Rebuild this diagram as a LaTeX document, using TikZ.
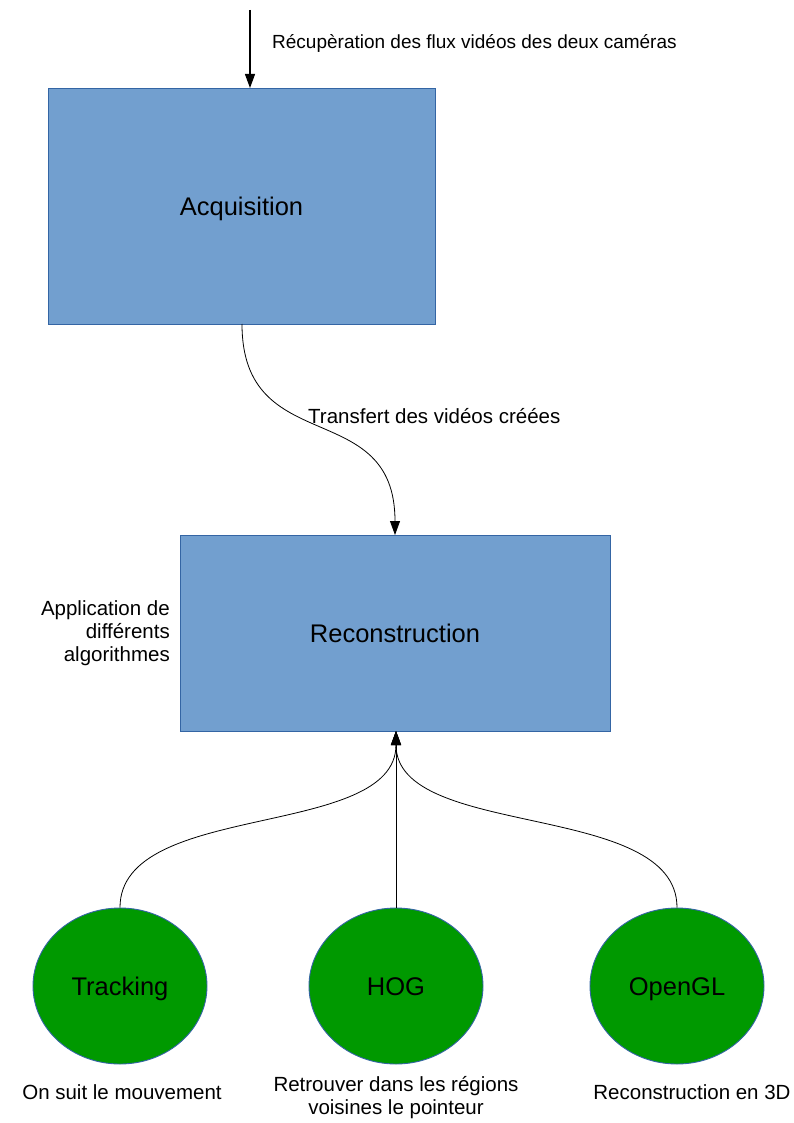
\documentclass[tikz,border=0pt]{standalone}
\usepackage{fontspec}
\setmainfont{Liberation Sans}
\usepackage{xcolor}
\usetikzlibrary{arrows.meta,shapes.geometric}
\definecolor{boxfill}{HTML}{729FCF}
\definecolor{boxline}{HTML}{3465A4}
\definecolor{ovalfill}{HTML}{009900}
\tikzset{
  blk/.style={draw=boxline, fill=boxfill, line width=0.9pt, inner sep=0pt,
    text height=24pt, text depth=5.4pt, font=\fontsize{25.5}{30}\selectfont},
  oval/.style={ellipse, draw=boxline, fill=ovalfill, line width=0.9pt, inner sep=0pt,
    text height=24pt, text depth=5.4pt,
    minimum width=174pt, minimum height=156pt, font=\fontsize{25.5}{30}\selectfont},
  flow/.style={draw=black, line width=0.8pt, -{Triangle[length=14pt,width=10pt]}},
  lab/.style={text=black, font=\fontsize{20.5}{23}\selectfont, inner sep=0pt},
}

\begin{document}
\begin{tikzpicture}[x=1pt,y=-1pt]
  \useasboundingbox (0,0) rectangle (794,1123);

  \node[blk, minimum width=387pt, minimum height=236pt] (acq) at (241.5,206) {Acquisition};
  \node[blk, minimum width=430pt, minimum height=196pt] (rec) at (395,633) {Reconstruction};

  \node[oval] (trk) at (120,986) {Tracking};
  \node[oval] (hog) at (396,986) {HOG};
  \node[oval] (ogl) at (677,986) {OpenGL};

  \coordinate (src) at (250,10);
  \coordinate (acqin) at (250,88);
  \coordinate (acqout) at (242,324);
  \coordinate (recin) at (395,535);
  \coordinate (recout) at (396,731);

  \draw[flow, line width=1.2pt] (src) -- (acqin);
  \draw[flow] (acqout) .. controls (242,460) and (395,395) .. (recin);

  \draw[flow] (trk.north) .. controls (120,800) and (396,840) .. (recout);
  \draw[flow] (hog.north) -- (recout);
  \draw[flow] (ogl.north) .. controls (677,800) and (396,840) .. (recout);

  \node[lab, anchor=west, font=\fontsize{19}{22}\selectfont] at (272,43) {Récupèration des flux vidéos des deux caméras};
  \node[lab, anchor=west] at (308,416) {Transfert des vidéos créées};
  \node[lab, anchor=east, align=right] at (170,633) {Application de\\différents\\algorithmes};

  \node[lab] at (122,1092) {On suit le mouvement};
  \node[lab, align=center] at (396,1098) {Retrouver dans les régions\\voisines le pointeur};
  \node[lab] at (692,1092) {Reconstruction en 3D};
\end{tikzpicture}
\end{document}
